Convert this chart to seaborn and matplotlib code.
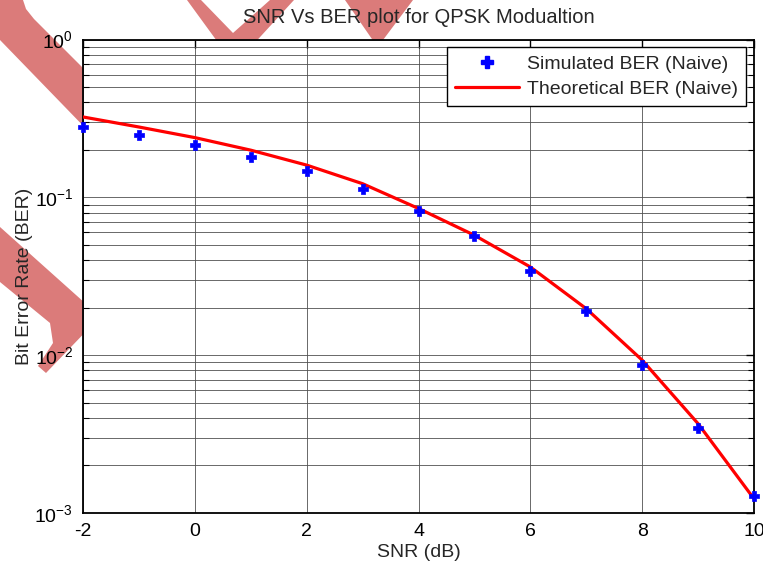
import numpy as np
import pandas as pd
import matplotlib
matplotlib.use("Agg")
import matplotlib.pyplot as plt
from matplotlib.patches import Polygon
from matplotlib.lines import Line2D
from matplotlib.ticker import LogLocator, NullFormatter
import seaborn as sns

# ---- data ----
snr_db = [-2, -1, 0, 1, 2, 3, 4, 5, 6, 7, 8, 9, 10]
ber_simulated = [0.279, 0.248, 0.215, 0.180, 0.146, 0.1125, 0.0817, 0.0569,
                 0.0342, 0.0191, 0.00862, 0.00346, 0.00128]
ber_theory = [0.323, 0.279, 0.239, 0.199, 0.160, 0.122, 0.085, 0.0575,
              0.0362, 0.0197, 0.0093, 0.00368, 0.00123]
x_ticks = [-2, 0, 2, 4, 6, 8, 10]
title = "SNR Vs BER plot for QPSK Modualtion"
xlabel = "SNR (dB)"
ylabel = "Bit Error Rate (BER)"
legend_labels = ["Simulated BER (Naive)", "Theoretical BER (Naive)"]

df = pd.DataFrame({"snr": snr_db, "sim": ber_simulated, "theory": ber_theory})

sns.set_style("white")
plt.rcParams["font.family"] = ["Liberation Sans", "DejaVu Sans"]
plt.rcParams["mathtext.fontset"] = "custom"
plt.rcParams["mathtext.rm"] = "Liberation Sans"
plt.rcParams["mathtext.it"] = "Liberation Sans"
plt.rcParams["mathtext.bf"] = "Liberation Sans"

W, H = 763, 563
fig = plt.figure(figsize=(W / 100, H / 100), dpi=100)
ax = fig.add_axes([83 / W, 1 - 513 / H, (754 - 83) / W, (513 - 39.5) / H])

# ---- watermark (figure background, behind the axes) ----
wm_color = "#db7b7a"
def px_poly(pts):
    return Polygon([(x / W, 1 - y / H) for x, y in pts], closed=True,
                   transform=fig.transFigure, facecolor=wm_color,
                   edgecolor="none", zorder=-5)
shapes = [
    [(0, 0), (23, 0), (26, 9), (34, 19), (95, 80), (95, 138), (0, 40)],
    [(0, 227), (95, 312), (95, 322), (46, 373), (38, 366), (53, 343),
     (50, 323), (0, 282)],
    [(187, 0), (201, 0), (233, 33), (270, 0), (294, 0), (250, 48), (222, 48)],
    [(345, 0), (413, 0), (383, 40), (374, 42)],
]
for s in shapes:
    fig.patches.append(px_poly(s))

# ---- data ----
sns.lineplot(data=df, x="snr", y="theory", ax=ax, color="#ff0000",
             linewidth=2.3, zorder=3, legend=False)
sns.scatterplot(data=df, x="snr", y="sim", ax=ax, marker="P", s=60,
                color="#0000ff", edgecolor="#0000ff", linewidth=0.5,
                zorder=4, legend=False, clip_on=False)

ax.set_yscale("log")
ax.set_xlim(-2, 10)
ax.set_ylim(1e-3, 1)
ax.set_xticks(x_ticks)
ax.set_xticklabels([str(t) for t in x_ticks])
ax.yaxis.set_major_locator(LogLocator(base=10, numticks=10))
ax.yaxis.set_minor_locator(LogLocator(base=10, subs=np.arange(2, 10), numticks=20))
ax.yaxis.set_minor_formatter(NullFormatter())

ax.grid(True, which="major", axis="both", color="#505050", linewidth=0.6)
ax.grid(True, which="minor", axis="y", color="#505050", linewidth=0.6)
ax.set_axisbelow(True)

ax.tick_params(axis="both", which="both", direction="in", top=True,
               right=True, labelsize=14, colors="black")
ax.tick_params(axis="x", which="major", pad=7)
ax.tick_params(axis="y", which="major", pad=7)
ax.tick_params(axis="both", which="major", length=6, width=1)
ax.tick_params(axis="y", which="minor", length=4, width=0.8, left=True, right=True)
for sp in ax.spines.values():
    sp.set_color("black")
    sp.set_linewidth(1.3)

ax.set_title(title, fontsize=14.5, pad=12)
ax.set_xlabel(xlabel, fontsize=14, labelpad=3)
ax.set_ylabel(ylabel, fontsize=14, labelpad=1)

handles = [
    Line2D([], [], linestyle="none", marker="P", markersize=8,
           color="#0000ff"),
    Line2D([], [], color="#ff0000", linewidth=2.3),
]
leg = ax.legend(handles, legend_labels, loc="upper right", fontsize=14,
                frameon=True, fancybox=False, edgecolor="black",
                framealpha=1, borderaxespad=0.4, handlelength=3.3,
                handletextpad=0.45, borderpad=0.4, labelspacing=0.4)
leg.get_frame().set_linewidth(1.0)

fig.savefig("out.png", dpi=100)
